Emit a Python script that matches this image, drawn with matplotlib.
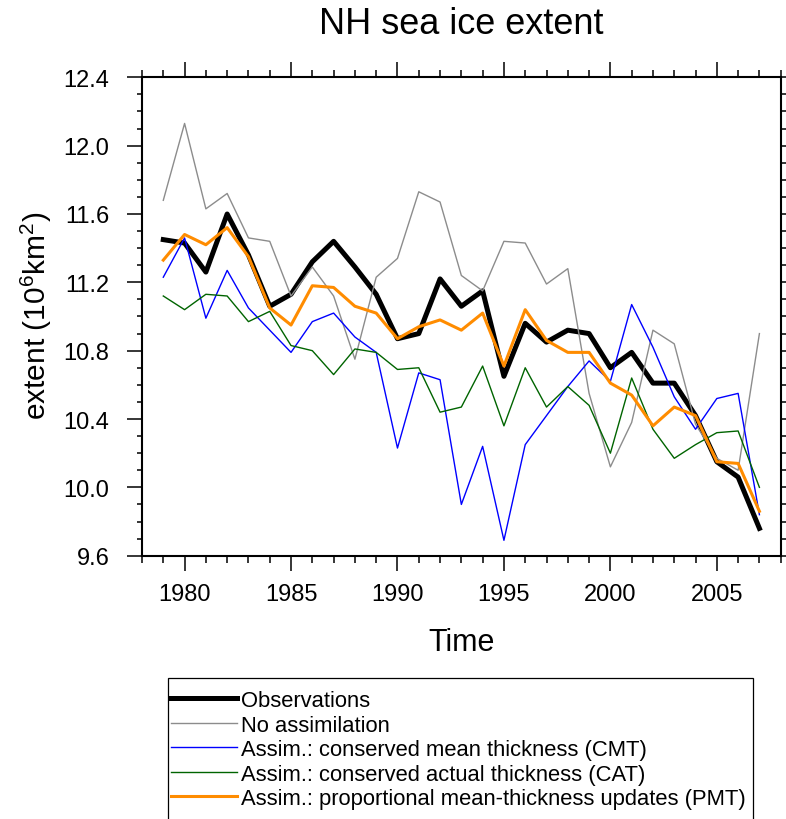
import matplotlib
matplotlib.use("Agg")
import matplotlib.pyplot as plt
from matplotlib.patches import Rectangle
from matplotlib.ticker import MultipleLocator, FormatStrFormatter

plt.rcParams["font.family"] = ["Liberation Sans", "DejaVu Sans"]
plt.rcParams["mathtext.fontset"] = "custom"
plt.rcParams["mathtext.rm"] = "Liberation Sans"
plt.rcParams["mathtext.it"] = "Liberation Sans:italic"

years = list(range(1979, 2008))

observations = [11.45, 11.43, 11.26, 11.60, 11.36, 11.06, 11.13, 11.32, 11.44, 11.29,
                11.13, 10.87, 10.90, 11.22, 11.06, 11.15, 10.65, 10.96, 10.85, 10.92,
                10.90, 10.70, 10.79, 10.61, 10.61, 10.42, 10.15, 10.06, 9.76]
no_assim = [11.68, 12.13, 11.63, 11.72, 11.46, 11.44, 11.12, 11.29, 11.12, 10.75,
            11.23, 11.34, 11.73, 11.67, 11.24, 11.15, 11.44, 11.43, 11.19, 11.28,
            10.55, 10.12, 10.38, 10.92, 10.84, 10.37, 10.17, 10.10, 10.90]
cmt = [11.23, 11.46, 10.99, 11.27, 11.05, 10.92, 10.79, 10.97, 11.02, 10.88,
       10.79, 10.23, 10.67, 10.63, 9.90, 10.24, 9.69, 10.25, 10.42, 10.59,
       10.74, 10.62, 11.07, 10.82, 10.53, 10.34, 10.52, 10.55, 9.84]
cat = [11.12, 11.04, 11.13, 11.12, 10.97, 11.03, 10.83, 10.80, 10.66, 10.81,
       10.79, 10.69, 10.70, 10.44, 10.47, 10.71, 10.36, 10.70, 10.47, 10.59,
       10.48, 10.20, 10.64, 10.34, 10.17, 10.25, 10.32, 10.33, 10.00]
pmt = [11.33, 11.48, 11.42, 11.52, 11.35, 11.05, 10.95, 11.18, 11.17, 11.06,
       11.02, 10.87, 10.94, 10.98, 10.92, 11.02, 10.71, 11.04, 10.86, 10.79,
       10.79, 10.61, 10.54, 10.36, 10.47, 10.42, 10.15, 10.14, 9.86]

labels = ["Observations", "No assimilation",
          "Assim.: conserved mean thickness (CMT)",
          "Assim.: conserved actual thickness (CAT)",
          "Assim.: proportional mean-thickness updates (PMT)"]

W, H = 786, 820
fig = plt.figure(figsize=(W / 100, H / 100), dpi=100)
ax = fig.add_axes([142 / W, 1 - 556.7 / H, (780.7 - 142) / W, (556.7 - 78.3) / H])

series = [observations, no_assim, cmt, cat, pmt]
colors = ["black", "#8c8c8c", "#0000ff", "#006400", "#ff8c00"]
widths = [3.6, 1.0, 1.0, 1.0, 2.2]
handles = []
for vals, c, lw, lab in zip(series, colors, widths, labels):
    h, = ax.plot(years, vals, color=c, lw=lw, label=lab)
    handles.append(h)

ax.set_xlim(1978, 2008)
ax.set_ylim(9.6, 12.4)
ax.xaxis.set_major_locator(MultipleLocator(5))
ax.xaxis.set_minor_locator(MultipleLocator(1))
ax.yaxis.set_major_locator(MultipleLocator(0.4))
ax.yaxis.set_minor_locator(MultipleLocator(0.1))
ax.yaxis.set_major_formatter(FormatStrFormatter("%.1f"))

for s in ax.spines.values():
    s.set_linewidth(1.5)
ax.tick_params(which="both", direction="out", top=True, right=True, width=1.1,
               labelsize=17)
ax.tick_params(axis="x", which="major", length=10.5, pad=9)
ax.tick_params(axis="x", which="minor", length=5)
ax.tick_params(axis="y", which="major", length=10.5, pad=13)
ax.tick_params(axis="y", which="minor", length=3.6)

fig.text(461 / W, 1 - 25 / H, "NH sea ice extent", fontsize=26,
         ha="center", va="center")
fig.text(462 / W, 1 - 643 / H, "Time", fontsize=22, ha="center", va="center")
fig.text(36 / W, 1 - 316 / H, r"extent (10$^6$km$^2$)", fontsize=21.5,
         rotation=90, ha="center", va="center")

box = Rectangle((168 / W, -0.05), (753 - 168) / W, 0.05 + 1 - 679 / H,
                transform=fig.transFigure, fill=False, edgecolor="black", lw=0.9)
fig.patches.append(box)
fig.legend(handles=handles, loc="upper left",
           bbox_to_anchor=(171 / W, 1 - 691 / H), frameon=False, fontsize=15.8,
           borderpad=0, borderaxespad=0, handlelength=3.0, handletextpad=0.2,
           labelspacing=0.16)

fig.savefig("out.png", dpi=100)
